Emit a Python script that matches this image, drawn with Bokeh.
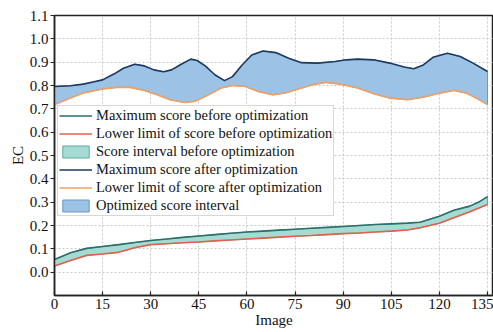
from bokeh.plotting import figure
from bokeh.models import Range1d, FixedTicker, PrintfTickFormatter, Legend, LegendItem
from bokeh.embed import file_html
from bokeh.resources import INLINE

# Maximum score after optimization
max_after_x = [0, 5, 9, 12, 15, 18.5, 21.5, 25, 28, 31, 34, 36.5, 39.5, 42.5, 44.5, 47,
               50, 53, 55.5, 58.5, 61.5, 65, 69, 73, 77, 82, 87.5, 91, 94.5, 99.5,
               104.5, 109, 112, 115, 118, 122.5, 126.5, 130.5, 135]
max_after = [0.796, 0.799, 0.806, 0.815, 0.824, 0.849, 0.874, 0.891, 0.884, 0.867,
             0.859, 0.867, 0.891, 0.913, 0.907, 0.884, 0.846, 0.821, 0.838, 0.888,
             0.931, 0.948, 0.941, 0.917, 0.898, 0.896, 0.903, 0.910, 0.913, 0.910,
             0.896, 0.879, 0.872, 0.888, 0.921, 0.938, 0.924, 0.896, 0.860]

# Lower limit of score after optimization
low_after_x = [0, 5, 9, 15, 19.5, 23.5, 28, 32, 36, 40.5, 44, 48, 52, 55.5, 59.5, 63.5,
               68, 72, 76, 80.5, 84.5, 88.5, 91, 94.5, 99.5, 104.5, 110, 115, 120,
               124.5, 128.5, 131.5, 135]
low_after = [0.718, 0.746, 0.768, 0.785, 0.792, 0.792, 0.779, 0.760, 0.739, 0.727,
             0.733, 0.760, 0.789, 0.800, 0.796, 0.774, 0.760, 0.768, 0.785, 0.803,
             0.813, 0.807, 0.800, 0.789, 0.765, 0.746, 0.739, 0.750, 0.767, 0.779,
             0.767, 0.746, 0.718]

# Maximum score before optimization
max_before_x = [0, 5, 10, 15, 20, 25, 30, 35, 40, 45, 50, 55, 60, 65, 70, 75, 80, 85,
                90, 95, 100, 105, 110, 114, 120, 124.5, 129.5, 132.5, 135]
max_before = [0.054, 0.083, 0.102, 0.110, 0.118, 0.127, 0.136, 0.142, 0.149, 0.155,
              0.161, 0.167, 0.172, 0.176, 0.180, 0.184, 0.188, 0.192, 0.196, 0.200,
              0.204, 0.207, 0.210, 0.214, 0.240, 0.265, 0.283, 0.302, 0.324]

# Lower limit of score before optimization
low_before_x = [0, 5, 10, 15, 20, 25, 30, 35, 40, 45, 50, 55, 60, 65, 70, 75, 80, 85,
                90, 95, 100, 105, 110, 114, 120, 124.5, 129.5, 135]
low_before = [0.026, 0.050, 0.072, 0.078, 0.085, 0.105, 0.118, 0.122, 0.126, 0.129,
              0.134, 0.138, 0.142, 0.146, 0.150, 0.154, 0.157, 0.161, 0.165, 0.168,
              0.172, 0.176, 0.181, 0.190, 0.210, 0.233, 0.259, 0.290]

x_ticks = [0, 15, 30, 45, 60, 75, 90, 105, 120, 135]
y_ticks = [0.0, 0.1, 0.2, 0.3, 0.4, 0.5, 0.6, 0.7, 0.8, 0.9, 1.0, 1.1]

FONT = "Liberation Serif"

p = figure(width=493, height=332, output_backend="svg", toolbar_location=None,
           x_range=Range1d(0, 136.87), y_range=Range1d(-0.1, 1.1))
p.min_border = 0
p.min_border_left = 54
p.min_border_top = 15
p.min_border_bottom = 37
p.min_border_right = 0

p.background_fill_color = "white"
p.border_fill_color = "white"
p.outline_line_color = "#222222"
p.outline_line_width = 1.5

# areas (polygon = upper curve then lower curve reversed)
r_fill_before = p.patch(max_before_x + low_before_x[::-1], max_before + low_before[::-1],
                        fill_color="#a6dbd3", line_color="#5ea89e", line_width=1)
r_fill_after = p.patch(max_after_x + low_after_x[::-1], max_after + low_after[::-1],
                       fill_color="#9cc2e6", line_color="#6b98c6", line_width=1)

# lines
r_max_b = p.line(max_before_x, max_before, line_color="#2c6e6a", line_width=1.6)
r_low_b = p.line(low_before_x, low_before, line_color="#e5604a", line_width=1.6)
r_max_a = p.line(max_after_x, max_after, line_color="#1f3a60", line_width=1.6)
r_low_a = p.line(low_after_x, low_after, line_color="#f2a060", line_width=1.6)

legend = Legend(items=[
    LegendItem(label="Maximum score before optimization", renderers=[r_max_b]),
    LegendItem(label="Lower limit of score before optimization", renderers=[r_low_b]),
    LegendItem(label="Score interval before optimization", renderers=[r_fill_before]),
    LegendItem(label="Maximum score after optimization", renderers=[r_max_a]),
    LegendItem(label="Lower limit of score after optimization", renderers=[r_low_a]),
    LegendItem(label="Optimized score interval", renderers=[r_fill_after]),
], location=(3, 79))
legend.label_text_font = FONT
legend.label_text_font_size = "14.5px"
legend.label_text_color = "#111111"
legend.glyph_width = 33
legend.glyph_height = 15
legend.label_height = 15
legend.label_standoff = 4
legend.spacing = 1
legend.padding = 1
legend.margin = 0
legend.border_line_color = "#b0b0b0"
legend.border_line_width = 1
legend.background_fill_color = "white"
legend.background_fill_alpha = 1.0
p.add_layout(legend)

# axes
p.xaxis.ticker = FixedTicker(ticks=x_ticks)
p.yaxis.ticker = FixedTicker(ticks=y_ticks)
p.yaxis.formatter = PrintfTickFormatter(format="%.1f")
for ax in (p.xaxis, p.yaxis):
    ax.axis_line_color = "#222222"
    ax.axis_line_width = 1.5
    ax.major_tick_line_color = "#222222"
    ax.major_tick_line_width = 1.2
    ax.minor_tick_line_color = None
    ax.major_label_text_font = FONT
    ax.major_label_text_font_size = "15px"
    ax.major_label_text_color = "#111111"
    ax.axis_label_text_font = FONT
    ax.axis_label_text_font_size = "15px"
    ax.axis_label_text_font_style = "normal"
    ax.axis_label_text_color = "#111111"
p.xaxis.major_tick_in = 4
p.xaxis.major_tick_out = 0
p.yaxis.major_tick_in = 0
p.yaxis.major_tick_out = 4
p.xaxis.major_label_standoff = 3
p.yaxis.major_label_standoff = 2
p.xaxis.axis_label = "Image"
p.yaxis.axis_label = "EC"
p.xaxis.axis_label_standoff = 0
p.yaxis.axis_label_standoff = 1

p.xgrid.grid_line_color = "#c8c8c8"
p.ygrid.grid_line_color = "#c8c8c8"
p.xgrid.grid_line_dash = "2 2"
p.ygrid.grid_line_dash = "2 2"
p.xgrid.grid_line_width = 1
p.ygrid.grid_line_width = 1

open("out.html", "w").write(file_html(p, INLINE))
